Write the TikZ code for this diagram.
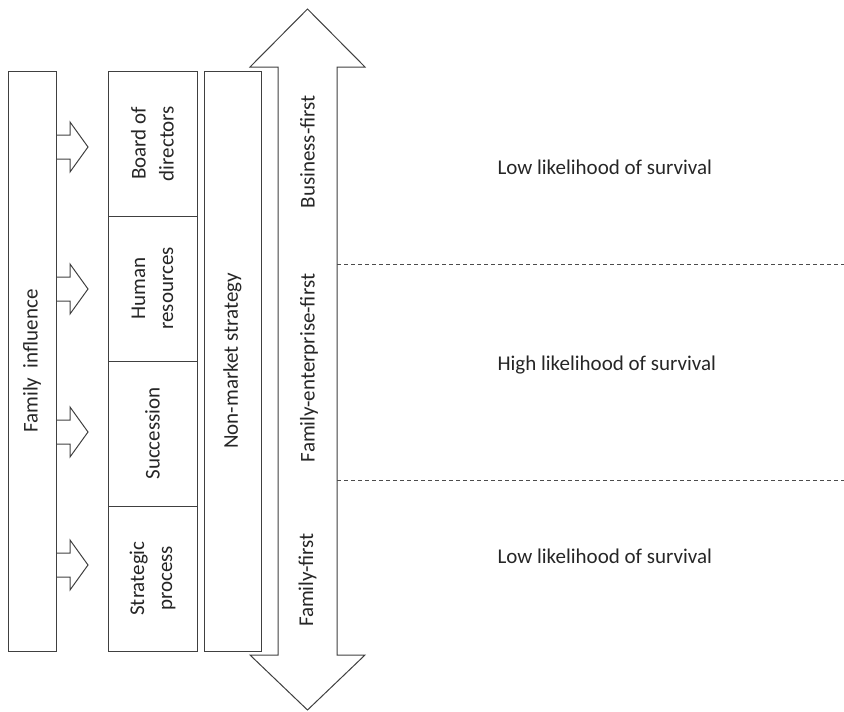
\documentclass[tikz,border=0pt]{standalone}
\usepackage{fontspec}
\setmainfont{Carlito}
\usetikzlibrary{positioning}

\tikzset{
  box/.style={draw=black!75, line width=1pt, fill=white, inner sep=0pt, outer sep=0pt},
  part/.style={box, minimum width=89pt, minimum height=145pt},
  lbl/.style={rotate=90, align=center, text=black!85, font=\fontsize{21}{28}\selectfont},
  note/.style={anchor=west, text=black!85, font=\fontsize{21}{25}\selectfont},
  sep/.style={draw=black!70, line width=0.9pt, dash pattern=on 4pt off 3pt},
}

\begin{document}
\begin{tikzpicture}[x=1pt, y=-1pt]
  \useasboundingbox (0,0) rectangle (844,712);

  % Define nodes
  \node[box, minimum width=48pt, minimum height=580pt] (fam) at (32,361) {};
  \node[lbl] at (fam) {Family\ \ influence};

  \node[part] (board) at (152.5,143.5) {};
  \node[part, below=0pt of board] (hr) {};
  \node[part, below=0pt of hr] (succ) {};
  \node[part, below=0pt of succ] (strat) {};
  \node[lbl] at (board) {Board of\\directors};
  \node[lbl] at (hr) {Human\\resources};
  \node[lbl] at (succ) {Succession};
  \node[lbl] at (strat) {Strategic\\process};

  \node[box, minimum width=57pt, minimum height=580pt] (nms) at (232.5,361) {};
  \node[lbl] at (nms) {Non-market strategy};

  % Double arrow
  \draw[box] (278,67) -- (250,67) -- (307.5,9) -- (365,67) -- (337,67)
    -- (337,655) -- (365,655) -- (307.5,710) -- (250,655) -- (278,655) -- cycle;
  \node[minimum width=59pt, minimum height=588pt, inner sep=0pt] (shaft) at (307.5,361) {};
  \node[lbl] (bf) at (307.5,152) {Business-first};
  \node[lbl] (fef) at (309,368) {Family-enterprise-first};
  \node[lbl] (ff) at (307.5,580) {Family-first};

  % Influence arrows
  \foreach \y in {147,289,432,565}
    \draw[box, fill=none] (fam.east |- 0,\y-12) -- (70,\y-12) -- (70,\y-25) -- (88,\y)
      -- (70,\y+25) -- (70,\y+12) -- (fam.east |- 0,\y+12);

  % Survival zones
  \draw[sep] (shaft.east |- 0,264) -- (844,264);
  \draw[sep] (shaft.east |- 0,480) -- (844,480);
  \node[note] (low1) at (494,167) {Low likelihood of survival};
  \node[note] (high) at (494,365) {High likelihood of survival};
  \node[note] (low2) at (494,556) {Low likelihood of survival};
\end{tikzpicture}
\end{document}
